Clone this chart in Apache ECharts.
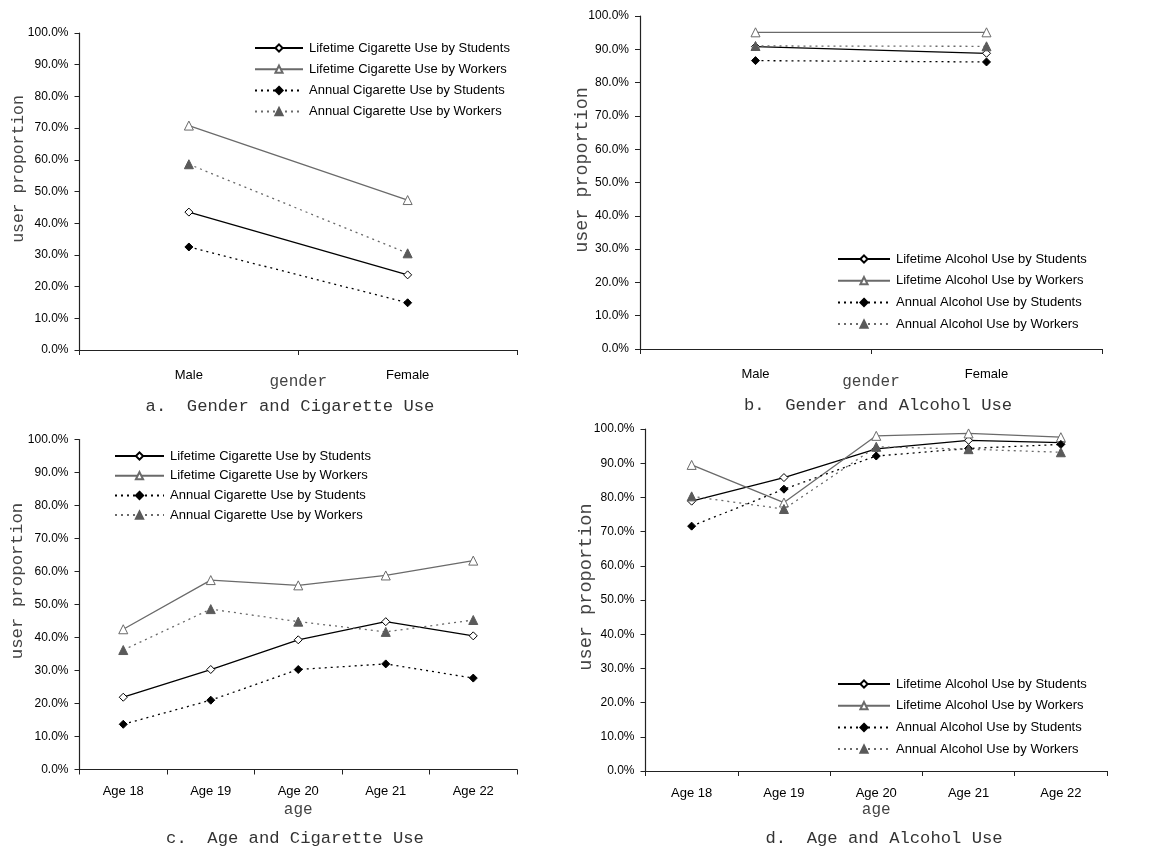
<!DOCTYPE html>
<html>
<head>
<meta charset="utf-8">
<script src="https://cdn.jsdelivr.net/npm/echarts@6/dist/echarts.min.js"></script>
<style>
  html, body { margin: 0; padding: 0; background: #fff; }
  #chart { width: 1156px; height: 850px; }
</style>
</head>
<body>
<div id="chart"></div>
<script>
// Categories
const genderCats = ['Male', 'Female'];
const ageCats = ['Age 18', 'Age 19', 'Age 20', 'Age 21', 'Age 22'];

// a. Gender and Cigarette Use (%)
const cigGenderLifetimeStudents = [43.5, 23.7];
const cigGenderLifetimeWorkers  = [70.8, 47.3];
const cigGenderAnnualStudents   = [32.5, 14.9];
const cigGenderAnnualWorkers    = [58.6, 30.5];

// b. Gender and Alcohol Use (%)
const alcGenderLifetimeStudents = [90.8, 88.8];
const alcGenderLifetimeWorkers  = [95.1, 95.1];
const alcGenderAnnualStudents   = [86.6, 86.2];
const alcGenderAnnualWorkers    = [91.0, 90.9];

// c. Age and Cigarette Use (%)
const cigAgeLifetimeStudents = [21.9, 30.3, 39.3, 44.8, 40.5];
const cigAgeLifetimeWorkers  = [42.5, 57.4, 55.8, 58.8, 63.3];
const cigAgeAnnualStudents   = [13.7, 21.0, 30.3, 32.0, 27.7];
const cigAgeAnnualWorkers    = [36.2, 48.6, 44.8, 41.7, 45.3];

// d. Age and Alcohol Use (%)
const alcAgeLifetimeStudents = [78.9, 85.8, 94.2, 96.7, 96.0];
const alcAgeLifetimeWorkers  = [89.5, 78.5, 98.0, 98.7, 97.6];
const alcAgeAnnualStudents   = [71.6, 82.4, 92.1, 94.3, 95.5];
const alcAgeAnnualWorkers    = [80.3, 76.6, 94.8, 94.1, 93.2];

// Series names
const cigNames = ['Lifetime Cigarette Use by Students', 'Lifetime Cigarette Use by Workers',
                  'Annual Cigarette Use by Students', 'Annual Cigarette Use by Workers'];
const alcNames = ['Lifetime Alcohol Use by Students', 'Lifetime Alcohol Use by Workers',
                  'Annual Alcohol Use by Students', 'Annual Alcohol Use by Workers'];

// Panel titles and axis names
const panelTitles = ['a.  Gender and Cigarette Use', 'b.  Gender and Alcohol Use',
                     'c.  Age and Cigarette Use', 'd.  Age and Alcohol Use'];
const yName = 'user proportion';
const xNames = ['gender', 'gender', 'age', 'age'];

const SANS = '"Liberation Sans", Arial, sans-serif';
const MONO = '"Liberation Mono", "DejaVu Sans Mono", monospace';

// Visual style of the four series kinds (same order as the name lists)
const styles = [
  { symbol: 'diamond',  size: 8, fill: '#ffffff', stroke: '#000000', line: '#000000', dash: 'solid' },
  { symbol: 'triangle', size: 9, fill: '#ffffff', stroke: '#6a6a6a', line: '#6a6a6a', dash: 'solid' },
  { symbol: 'diamond',  size: 8, fill: '#000000', stroke: '#000000', line: '#000000', dash: [2, 4] },
  { symbol: 'triangle', size: 9, fill: '#5a5a5a', stroke: '#5a5a5a', line: '#6a6a6a', dash: [2, 4] }
];

function makeSeries(names, arrays, gridIndex) {
  return names.map((name, i) => {
    const s = styles[i];
    return {
      name: name,
      type: 'line',
      xAxisIndex: gridIndex,
      yAxisIndex: gridIndex,
      data: arrays[i],
      symbol: s.symbol,
      symbolSize: s.size,
      showAllSymbol: true,
      animation: false,
      lineStyle: { color: s.line, width: 1.3, type: s.dash },
      itemStyle: { color: s.fill, borderColor: s.stroke, borderWidth: 1 },
      emphasis: { disabled: true },
      z: 3 + i
    };
  });
}

// Panel layout
const grids = [
  { left: 79.5,  top: 33,    width: 437.5, height: 317 },
  { left: 640,   top: 16,    width: 462,   height: 333 },
  { left: 79.5,  top: 439.5, width: 437.5, height: 330 },
  { left: 645.5, top: 429,   width: 461.5, height: 342 }
];

const xCats = [genderCats, genderCats, ageCats, ageCats];
const xNameGaps = [24, 25, 32, 31];
const xLabelMargins = [19, 19, 15, 16];

const xAxes = grids.map((g, i) => ({
  type: 'category',
  gridIndex: i,
  data: xCats[i],
  boundaryGap: true,
  name: xNames[i],
  nameLocation: 'middle',
  nameGap: xNameGaps[i],
  nameMoveOverlap: false,
  nameTextStyle: { fontFamily: MONO, fontSize: 16, color: '#444' },
  axisLine: { lineStyle: { color: '#222', width: 1.2 } },
  axisTick: { show: true, inside: false, length: 5, lineStyle: { color: '#222' } },
  axisLabel: { fontFamily: SANS, fontSize: 13, color: '#000', margin: xLabelMargins[i] },
  splitLine: { show: false }
}));

const yNameSizes = [16.4, 18.4, 17.4, 18.6];
const yNameGaps = [53, 49, 53.5, 49.5];
const yNameShift = [45, 25, 47, 26];

const yAxes = grids.map((g, i) => ({
  type: 'value',
  gridIndex: i,
  min: 0,
  max: 100,
  interval: 10,
  name: yName,
  nameLocation: 'middle',
  nameGap: yNameGaps[i],
  nameMoveOverlap: false,
  nameRotate: 90,
  nameTextStyle: { fontFamily: MONO, fontSize: yNameSizes[i], color: '#444', padding: [0, 0, 0, yNameShift[i]] },
  axisLine: { show: true, lineStyle: { color: '#222', width: 1.2 } },
  axisTick: { show: true, inside: false, length: 5, lineStyle: { color: '#222' } },
  axisLabel: {
    fontFamily: SANS, fontSize: 12, color: '#000', margin: 11,
    formatter: v => v.toFixed(1) + '%'
  },
  splitLine: { show: false }
}));

const legendPos = [
  { left: 254, top: 41.5,  itemWidth: 48, itemGap: 8.2 },
  { left: 837, top: 252.5, itemWidth: 52, itemGap: 8.7 },
  { left: 114, top: 449.5, itemWidth: 49, itemGap: 6.7 },
  { left: 837, top: 677.5, itemWidth: 52, itemGap: 8.7 }
];
const legendNames = [cigNames, alcNames, cigNames, alcNames];

const legends = legendPos.map((p, i) => ({
  orient: 'vertical',
  left: p.left,
  top: p.top,
  padding: 0,
  itemWidth: p.itemWidth,
  itemHeight: 9,
  itemGap: p.itemGap,
  selectedMode: false,
  data: legendNames[i],
  textStyle: { fontFamily: SANS, fontSize: 13, color: '#000', padding: [0, 0, 0, 1] }
}));

const titlePos = [
  { left: 290, top: 398 },
  { left: 878, top: 397 },
  { left: 295, top: 830 },
  { left: 884, top: 830 }
];
const titles = titlePos.map((p, i) => ({
  text: panelTitles[i],
  left: p.left,
  top: p.top,
  textAlign: 'center',
  padding: 0,
  textStyle: { fontFamily: MONO, fontSize: 17.2, fontWeight: 'normal', color: '#333' }
}));

const series = [].concat(
  makeSeries(cigNames, [cigGenderLifetimeStudents, cigGenderLifetimeWorkers, cigGenderAnnualStudents, cigGenderAnnualWorkers], 0),
  makeSeries(alcNames, [alcGenderLifetimeStudents, alcGenderLifetimeWorkers, alcGenderAnnualStudents, alcGenderAnnualWorkers], 1),
  makeSeries(cigNames, [cigAgeLifetimeStudents, cigAgeLifetimeWorkers, cigAgeAnnualStudents, cigAgeAnnualWorkers], 2),
  makeSeries(alcNames, [alcAgeLifetimeStudents, alcAgeLifetimeWorkers, alcAgeAnnualStudents, alcAgeAnnualWorkers], 3)
);

const chart = echarts.init(document.getElementById('chart'), null, { renderer: 'canvas' });
chart.setOption({
  backgroundColor: '#ffffff',
  animation: false,
  title: titles,
  legend: legends,
  grid: grids,
  xAxis: xAxes,
  yAxis: yAxes,
  series: series
});
</script>
</body>
</html>
